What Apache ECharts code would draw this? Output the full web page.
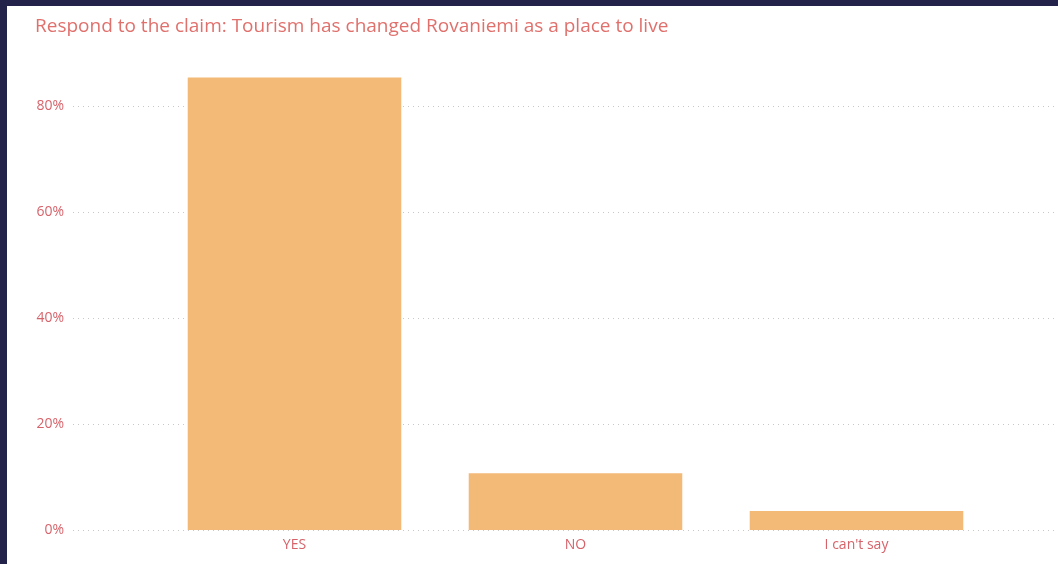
<!DOCTYPE html>
<html><head><meta charset="utf-8">
<script src="https://cdn.jsdelivr.net/npm/echarts@6/dist/echarts.min.js"></script>
<style>
html,body{margin:0;padding:0;background:#22224a;width:1058px;height:564px;overflow:hidden}
#c{position:absolute;left:7px;top:6px;width:1051px;height:558px;background:#fff}
</style></head>
<body><div id="c"></div>
<script>
const titleText = 'Respond to the claim: Tourism has changed Rovaniemi as a place to live';
const categories = ['YES', 'NO', "I can't say"];
const shares = [85.4, 10.7, 3.6];
const yTicks = [0, 20, 40, 60, 80];

const chart = echarts.init(document.getElementById('c'));
const font = "'Segoe UI','Open Sans','Noto Sans',sans-serif";
chart.setOption({
  animation: false,
  title: {
    text: titleText, left: 23, top: 6,
    textStyle: {color: '#e0706c', fontSize: 19, fontWeight: 'normal', fontFamily: font}
  },
  grid: [
    {left: 66, right: 0, top: 100, bottom: 34},
    {left: 147, width: 843, top: 47, bottom: 34}
  ],
  xAxis: [
    {type: 'value', gridIndex: 0, show: false, min: 0, max: 1},
    {type: 'category', gridIndex: 1, data: categories,
     axisLine: {show: false}, axisTick: {show: false},
     axisLabel: {color: '#d6636a', fontSize: 14, fontFamily: font, margin: 8}}
  ],
  yAxis: [
    {type: 'value', gridIndex: 0, min: yTicks[0], max: yTicks[yTicks.length - 1], interval: 20,
     axisLine: {show: false}, axisTick: {show: false},
     axisLabel: {color: '#d6636a', fontSize: 14, fontFamily: font, margin: 9, formatter: v => v + '%'},
     splitLine: {lineStyle: {color: '#c8c8c8', type: [1, 4], width: 1}}},
    {type: 'value', gridIndex: 1, min: 0, max: 90, show: false, splitLine: {show: false}}
  ],
  series: [
    {type: 'bar', xAxisIndex: 1, yAxisIndex: 1, data: shares,
     barCategoryGap: '24%', itemStyle: {color: '#f3b977'}}
  ]
});
</script></body></html>
